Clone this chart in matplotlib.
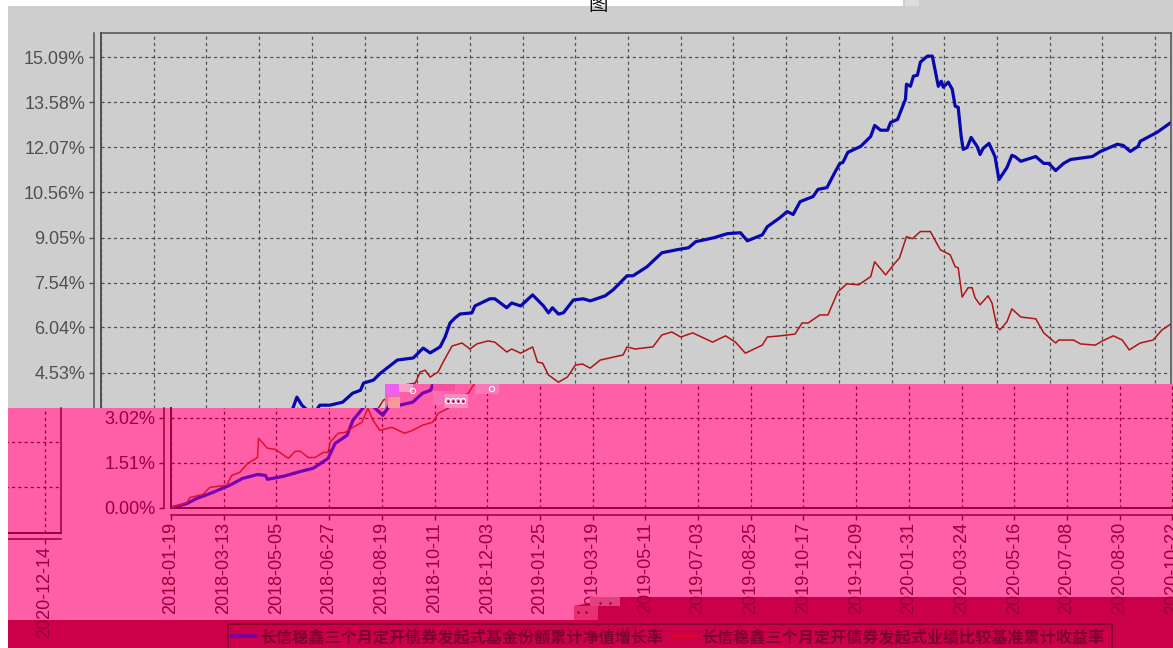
import matplotlib
matplotlib.use("Agg")
import pandas as pd
from matplotlib import pyplot as plt
from matplotlib.patches import Polygon, Rectangle

plt.rcParams["font.family"] = ["Liberation Sans", "Noto Sans CJK SC", "DejaVu Sans"]

W, H = 1173, 648

tick_labels = [
    "2018-01-19", "2018-03-13", "2018-05-05", "2018-06-27", "2018-08-19", "2018-10-11", "2018-12-03",
    "2019-01-25", "2019-03-19", "2019-05-11", "2019-07-03", "2019-08-25", "2019-10-17", "2019-12-09",
    "2020-01-31", "2020-03-24", "2020-05-16", "2020-07-08", "2020-08-30", "2020-10-22", "2020-12-14",
]
y_ticks = [0.00, 1.51, 3.02, 4.53, 6.04, 7.54, 9.05, 10.56, 12.07, 13.58, 15.09]

# days since 2018-01-19, percent
fund_days = [
    0, 16, 26, 42, 59, 72, 87, 95, 97, 113, 130, 143, 158, 165, 177, 183, 193, 197, 202, 213, 220, 230,
    243, 253, 261, 264, 274, 281, 298, 314, 324, 331, 341, 346, 351, 356, 361, 373, 376, 391, 396, 408,
    413, 422, 434, 445, 450, 454, 460, 465, 475, 485, 492, 507, 515, 529, 535, 549, 564, 579, 591, 598,
    616, 630, 643, 650, 665, 670, 683, 690, 696, 703, 716, 721, 730, 738, 743, 746, 751, 764, 774, 778,
    784, 791, 794, 801, 809, 810, 814, 817, 821, 824, 831, 836, 842, 845, 847, 852, 856, 859, 862, 865,
    867, 871, 875, 881, 884, 887, 893, 899, 903, 911, 916, 919, 925, 940, 948, 953, 960, 968, 975, 997,
    1005, 1022, 1028, 1035, 1043, 1045, 1062, 1076,
]
fund_values = [
    0.00, 0.15, 0.32, 0.52, 0.76, 0.99, 1.12, 1.09, 0.96, 1.06, 1.22, 1.33, 1.66, 2.16, 2.43, 2.94, 3.34,
    3.71, 3.44, 3.10, 3.44, 3.44, 3.54, 3.84, 3.94, 4.18, 4.28, 4.51, 4.95, 5.02, 5.35, 5.19, 5.39, 5.72,
    6.19, 6.36, 6.49, 6.53, 6.76, 7.00, 7.00, 6.70, 6.86, 6.76, 7.13, 6.76, 6.53, 6.70, 6.49, 6.53, 6.96,
    7.00, 6.93, 7.10, 7.30, 7.77, 7.77, 8.07, 8.54, 8.64, 8.71, 8.91, 9.04, 9.18, 9.21, 8.94, 9.14, 9.41,
    9.72, 9.92, 9.82, 10.25, 10.42, 10.66, 10.72, 11.23, 11.53, 11.56, 11.90, 12.10, 12.43, 12.80, 12.64,
    12.64, 12.90, 13.00, 13.68, 14.18, 14.11, 14.45, 14.48, 14.92, 15.12, 15.12, 14.11, 14.28, 14.08,
    14.25, 14.01, 13.44, 13.41, 12.43, 12.00, 12.06, 12.40, 12.10, 11.83, 12.03, 12.20, 11.76, 10.99,
    11.39, 11.80, 11.76, 11.60, 11.76, 11.53, 11.53, 11.29, 11.53, 11.66, 11.76, 11.93, 12.17, 12.13,
    11.93, 12.10, 12.27, 12.57, 12.90,
]
bench_days = [
    0, 16, 19, 32, 39, 56, 61, 69, 77, 87, 88, 97, 105, 118, 125, 130, 138, 145, 153, 158, 160, 168, 175,
    183, 192, 198, 203, 210, 222, 235, 243, 253, 263, 269, 279, 284, 299, 304, 316, 321, 326, 331, 339,
    344, 353, 363, 371, 378, 389, 396, 408, 413, 422, 434, 439, 444, 450, 460, 469, 477, 484, 492, 502,
    525, 529, 537, 555, 564, 574, 583, 595, 615, 628, 638, 648, 665, 670, 683, 698, 705, 711, 723, 731,
    741, 750, 762, 774, 778, 789, 797, 803, 810, 816, 824, 834, 844, 854, 859, 862, 866, 872, 876, 879,
    884, 892, 896, 901, 904, 911, 916, 925, 940, 948, 960, 963, 978, 985, 1000, 1007, 1018, 1027, 1034,
    1045, 1058, 1067, 1076,
]
bench_values = [
    0.00, 0.18, 0.35, 0.45, 0.69, 0.76, 1.09, 1.19, 1.49, 1.69, 2.33, 2.00, 1.96, 1.66, 1.90, 1.90, 1.69,
    1.69, 1.86, 1.86, 2.20, 2.50, 2.53, 2.70, 2.87, 3.34, 2.94, 2.60, 2.70, 2.50, 2.60, 2.77, 2.87, 3.17,
    3.34, 3.61, 3.84, 4.11, 4.18, 4.55, 4.61, 4.38, 4.55, 4.88, 5.42, 5.52, 5.32, 5.49, 5.59, 5.55, 5.22,
    5.32, 5.18, 5.39, 4.88, 4.85, 4.45, 4.21, 4.38, 4.78, 4.82, 4.68, 4.95, 5.12, 5.39, 5.32, 5.39, 5.79,
    5.89, 5.72, 5.86, 5.55, 5.76, 5.55, 5.18, 5.45, 5.72, 5.76, 5.82, 6.19, 6.19, 6.46, 6.46, 7.23, 7.50,
    7.47, 7.74, 8.24, 7.80, 8.14, 8.37, 9.08, 9.01, 9.25, 9.25, 8.64, 8.47, 8.07, 8.04, 7.06, 7.37, 7.37,
    7.03, 6.80, 7.10, 6.86, 6.06, 5.96, 6.23, 6.66, 6.39, 6.33, 5.86, 5.52, 5.62, 5.62, 5.49, 5.45, 5.59,
    5.76, 5.62, 5.29, 5.52, 5.62, 5.96, 6.16,
]
fund_label = "长信稳鑫三个月定开债券发起式基金份额累计净值增长率"
bench_label = "长信稳鑫三个月定开债券发起式业绩比较基准累计收益率"

GRAY = "#cecece"
PINK = "#ff5fa6"
DARK = "#cc0048"
MAROON = "#96003c"

tick_days = [(pd.Timestamp(t) - pd.Timestamp(tick_labels[0])).days for t in tick_labels]
PX_PER_PCT = 451 / 15.09


def panel(fig, left, bottom, top_px, color, xt, xl, yt, yl):
    """One copy of the chart, placed by its plot-frame corner in pixels."""
    height = bottom - top_px
    ax = fig.add_axes([left / W, (H - bottom) / H, 1070 / W, height / H], facecolor="none")
    ax.set_xlim(0, 1076)
    ax.set_ylim(0, height / PX_PER_PCT)
    ax.set_xticks(xt, xl)
    ax.set_yticks(yt, yl)
    ax.tick_params(colors=color, length=3.5, width=1, pad=3, labelsize=13)
    ax.tick_params(axis="x", labelrotation=90, pad=1.5)
    ax.grid(True, color=color, linestyle=(0, (2.5, 2.5)), linewidth=0.9)
    ax.set_axisbelow(True)
    for side in ("left", "bottom"):
        ax.spines[side].set_position(("outward", 5))
    for spine in ax.spines.values():
        spine.set_color(color)
        spine.set_linewidth(1.1)
    ax.axhline(0, color=color, linewidth=1.4, clip_on=False)
    return ax


fig = plt.figure(figsize=(W / 100, H / 100), dpi=100, facecolor=GRAY)

# grey copy, the part above the pink band
ax_gray = panel(fig, 101, 508, 33, "#505050", tick_days, [""] * len(tick_labels),
                y_ticks, ["", "", ""] + [f"{v:.2f}%" for v in y_ticks[3:]])
ax_gray.set_zorder(1)
ax_gray.axvline(0, color="#505050", linewidth=1.4, clip_on=False)
ax_gray.plot(fund_days, fund_values, color="#0808b0", linewidth=2.3)
ax_gray.plot(bench_days, bench_values, color="#b01414", linewidth=1.1)

# pink band and dark strip at the foot
bg = fig.add_axes([0, 0, 1, 1], facecolor="none")
bg.set_xlim(0, W)
bg.set_ylim(H, 0)
bg.axis("off")
bg.set_zorder(2)
pink_area = Polygon([(8, 408), (385, 408), (385, 384), (W, 384), (W, 648), (8, 648)],
                    transform=bg.transData, facecolor=PINK, edgecolor="none")
bg.add_patch(pink_area)
bg.add_patch(Polygon([(8, 620), (574, 620), (574, 606), (620, 597), (W, 597), (W, 648), (8, 648)],
                     facecolor=DARK, edgecolor="none"))

# pink copy, shifted to the right; only its part inside the band shows
ax_pink = panel(fig, 171, 508, 33, MAROON, tick_days[:-1], tick_labels[:-1],
                y_ticks[:3], [f"{v:.2f}%" for v in y_ticks[:3]])
ax_pink.set_zorder(3)
ax_pink.spines["top"].set_visible(False)
ax_pink.spines["left"].set_bounds(0, 3.34)
ax_pink.plot([0, 0], [0, 3.34], color=MAROON, linewidth=1.4, clip_on=False)
for tick in ax_pink.xaxis.get_major_ticks():
    tick.gridline.set_clip_path(pink_area)
fund_line, = ax_pink.plot(fund_days, fund_values, color="#7400b4", linewidth=2.3)
bench_line, = ax_pink.plot(bench_days, bench_values, color="#e0102c", linewidth=1.1)
fund_line.set_clip_path(pink_area)
bench_line.set_clip_path(pink_area)

# the same chart wrapped round to the left edge, a little lower
ax_wrap = panel(fig, -1009, 532.5, 408, MAROON, tick_days[-1:], tick_labels[-1:],
                y_ticks[1:3], ["", ""])
ax_wrap.set_zorder(3)
ax_wrap.spines["top"].set_visible(False)

# glitch blocks, legend and the cut-off title on top
top = fig.add_axes([0, 0, 1, 1], facecolor="none")
top.set_xlim(0, W)
top.set_ylim(H, 0)
top.axis("off")
top.set_zorder(4)
top.add_patch(Rectangle((0, 0), 8, H, facecolor="white", edgecolor="none"))
top.add_patch(Rectangle((0, 0), 903, 6, facecolor="white", edgecolor="none"))
top.add_patch(Rectangle((905, 0), 14, 6, facecolor="#dcdcdc", edgecolor="none"))
top.text(598, 5, "图", fontsize=14, color="#111111", ha="center", va="center", family="Noto Sans CJK SC")

glitch_blocks = [
    (385, 384, 14, 12, "#f060f0"), (388, 397, 12, 11, "#f59a9a"), (399, 384, 14, 8, "#f7a0c8"),
    (433, 384, 22, 7, "#f74fa0"), (433, 391, 10, 14, "#f870b0"), (444, 394, 24, 14, "#f78ac0"),
    (475, 384, 24, 10, "#f878b8"), (574, 606, 24, 14, "#e83070"), (590, 597, 30, 9, "#e04080"),
]
for x0, y0, bw, bh, col in glitch_blocks:
    top.add_patch(Rectangle((x0, y0), bw, bh, facecolor=col, edgecolor="none"))
top.scatter([413, 448, 453, 458, 463, 492], [391, 401, 401, 401, 401, 389], s=14,
            facecolors="none", edgecolors="white", linewidths=0.8)
top.scatter([448, 453, 458, 463, 578, 586, 600, 610], [401, 401, 401, 401, 612, 612, 603, 603], s=3,
            color="#7a0040", linewidths=0)

top.add_patch(Rectangle((228, 623.5), 884, 30, facecolor="none", edgecolor="#7a0030", linewidth=1.2))
top.plot([232, 255], [636, 636], color="#7000a8", linewidth=2.6)
top.plot([674, 696], [636, 636], color="#e00010", linewidth=1.6)
top.text(260, 637, fund_label, fontsize=11.6, fontweight="bold", color="#7a0030", va="center",
         family=["Noto Sans CJK SC", "DejaVu Sans"])
top.text(701, 637, bench_label, fontsize=11.6, fontweight="bold", color="#7a0030", va="center",
         family=["Noto Sans CJK SC", "DejaVu Sans"])

fig.savefig("out.png", dpi=100, facecolor=GRAY)
